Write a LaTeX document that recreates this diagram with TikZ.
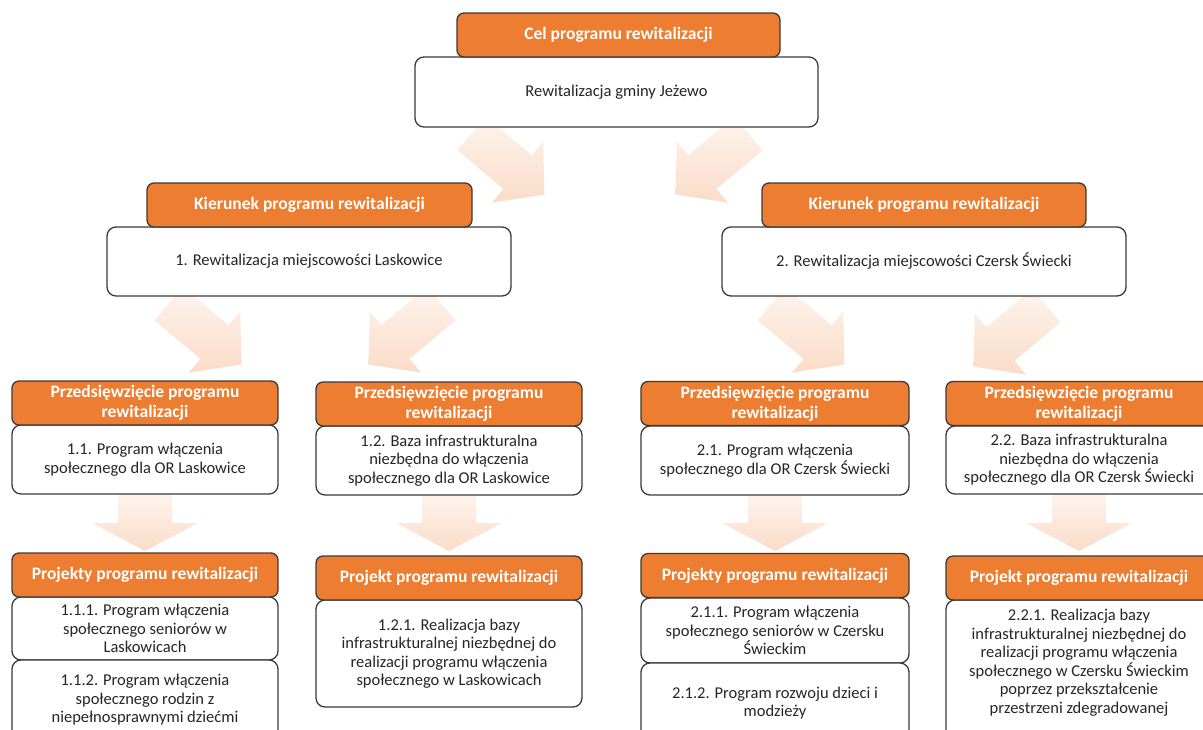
\documentclass[tikz,border=0pt]{standalone}
\usepackage{fontspec}
\setmainfont{Carlito}
\usepackage{tikz}
\definecolor{orng}{HTML}{ED7D31}
\definecolor{peach}{HTML}{FADCC8}
\definecolor{edge}{HTML}{3A3A3A}

\begin{document}
\begin{tikzpicture}[x=1pt, y=-1pt,
	head/.style={rectangle, rounded corners=7pt, draw=edge, line width=1.3pt, fill=orng, text=white, font=\bfseries\fontsize{17.5}{20}\selectfont, align=center, inner sep=0pt, minimum height=44pt},
	body/.style={rectangle, rounded corners=9pt, draw=edge, line width=1.3pt, fill=white, text=black!85, font=\fontsize{16.5}{18.5}\selectfont, align=center, inner sep=0pt},
	fade/.style={top color=peach!30, bottom color=peach},
	% block arrow: length / half shaft / half head / head length
	pics/blockarrow/.style args={#1/#2/#3/#4}{code={
		\path[fade] (-#1/2,-#2) -- (#1/2-#4,-#2) -- (#1/2-#4,-#3) -- (#1/2,0)
			-- (#1/2-#4,#3) -- (#1/2-#4,#2) -- (-#1/2,#2) -- cycle;}}]
			\useasboundingbox (0,0) rectangle (1203,729);
			\clip (0,0) rectangle (1203,729);
			% Arrows
			\pic[rotate=-40] (a0l) at (508,164) {blockarrow=95/22/40/35};
			\pic[rotate=-140] (a0r) at (712,164) {blockarrow=95/22/40/35};
			\pic[rotate=-40] (a1l) at (205,334) {blockarrow=95/22/40/35};
			\pic[rotate=-140] (a1r) at (405,334) {blockarrow=95/22/40/35};
			\pic[rotate=-40] (a2l) at (808,334) {blockarrow=95/22/40/35};
			\pic[rotate=-140] (a2r) at (1010,336) {blockarrow=95/22/40/35};
			\pic[rotate=-90] (d11) at (145,522) {blockarrow=58/27/53/28};
			\pic[rotate=-90] (d12) at (449,522) {blockarrow=58/27/53/28};
			\pic[rotate=-90] (d21) at (775,522) {blockarrow=58/27/53/28};
			\pic[rotate=-90] (d22) at (1079,522) {blockarrow=58/27/53/28};
			% Goal
			\node[body, minimum width=403pt, minimum height=70pt] (gmina) at (616.5,92) {Rewitalizacja gminy Jeżewo};
			\node[head, minimum width=323pt] (cel) at (618.5,35) {Cel programu rewitalizacji};
			% Directions
			\node[body, minimum width=404pt, minimum height=69pt] (kier1) at (309,261.5) {1. Rewitalizacja miejscowości Laskowice};
			\node[head, minimum width=325pt] (kh1) at (309.5,205) {Kierunek programu rewitalizacji};
			\node[body, minimum width=404pt, minimum height=69pt] (kier2) at (924,261.5) {2. Rewitalizacja miejscowości Czersk Świecki};
			\node[head, minimum width=324pt] (kh2) at (924,205) {Kierunek programu rewitalizacji};
			% Undertakings
			\node[body, minimum width=266pt, minimum height=69pt] (p11) at (145,459.5) {1.1. Program włączenia\\społecznego dla OR Laskowice};
			\node[head, minimum width=266pt] (ph11) at (145,403) {Przedsięwzięcie programu\\rewitalizacji};
			\node[body, minimum width=266pt, minimum height=69pt] (p12) at (449,460.5) {1.2. Baza infrastrukturalna\\niezbędna do włączenia\\społecznego dla OR Laskowice};
			\node[head, minimum width=266pt] (ph12) at (449,404) {Przedsięwzięcie programu\\rewitalizacji};
			\node[body, minimum width=268pt, minimum height=69pt] (p21) at (775,460.5) {2.1. Program włączenia\\społecznego dla OR Czersk Świecki};
			\node[head, minimum width=268pt] (ph21) at (775,403.5) {Przedsięwzięcie programu\\rewitalizacji};
			\node[body, minimum width=266pt, minimum height=68pt] (p22) at (1079,460) {2.2. Baza infrastrukturalna\\niezbędna do włączenia\\społecznego dla OR Czersk Świecki};
			\node[head, minimum width=266pt] (ph22) at (1079,403.5) {Przedsięwzięcie programu\\rewitalizacji};
			% Projects
			\node[body, minimum width=266pt, minimum height=63pt] (r111) at (145,628.5) {1.1.1. Program włączenia\\społecznego seniorów w\\Laskowicach};
			\node[body, minimum width=266pt, minimum height=80pt] (r112) at (145,700) {1.1.2. Program włączenia\\społecznego rodzin z\\niepełnosprawnymi dziećmi};
			\node[head, minimum width=266pt] (rh11) at (145,575) {Projekty programu  rewitalizacji};
			\node[body, minimum width=266pt, minimum height=107pt] (r121) at (449,653.5) {1.2.1. Realizacja bazy\\infrastrukturalnej niezbędnej do\\realizacji programu włączenia\\społecznego w Laskowicach};
			\node[head, minimum width=266pt] (rh12) at (449,578) {Projekt programu rewitalizacji};
			\node[body, minimum width=268pt, minimum height=65pt] (r211) at (775,630.5) {2.1.1. Program włączenia\\społecznego seniorów w Czersku\\Świeckim};
			\node[head, minimum width=268pt] (rh21) at (775,575.5) {Projekty programu  rewitalizacji};
			\node[body, minimum width=268pt, minimum height=80pt] (r212) at (775,703) {2.1.2. Program rozwoju dzieci i\\modzieży};
			\node[body, minimum width=266pt, minimum height=145pt] (r221) at (1079,672.5) {2.2.1. Realizacja bazy\\infrastrukturalnej niezbędnej do\\realizacji programu włączenia\\społecznego w Czersku Świeckim\\poprzez przekształcenie\\przestrzeni zdegradowanej\\[4pt]};
			\node[head, minimum width=266pt] (rh22) at (1079,578) {Projekt programu rewitalizacji};
		\end{tikzpicture}
\end{document}
